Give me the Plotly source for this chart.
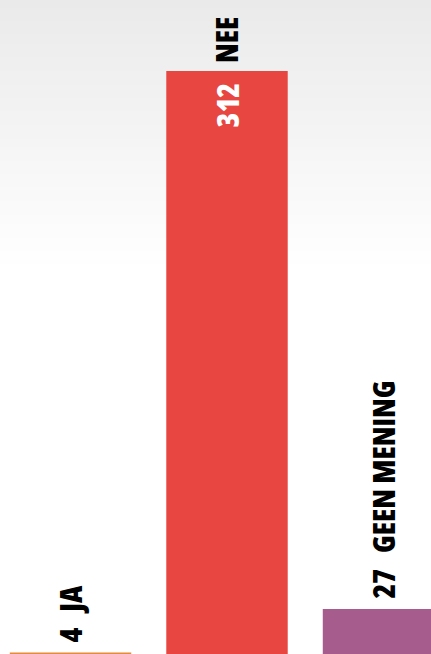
import plotly.graph_objects as go

categories = ["JA", "NEE", "GEEN MENING"]
values = [4, 312, 27]
colors = ["#e8893b", "#e84641", "#a65c8c"]
value_inside = [False, True, False]

W, H = 431, 654
FONT = "Open Sans"
GAP = "\u00a0\u00a0\u00a0"

fig = go.Figure()

# background gradient (light gray at top fading to white)
n_bands = 60
grad_end = 270 / H
for i in range(n_bands):
    t0 = i / n_bands
    t1 = (i + 1) / n_bands
    g = int(round(234 + (255 - 234) * t0))
    fig.add_shape(type="rect", xref="paper", yref="paper",
                  x0=0, x1=1, y0=1 - t1 * grad_end, y1=1 - t0 * grad_end + 0.002,
                  fillcolor=f"rgb({g},{g},{g})", line_width=0, layer="below")

xs = list(range(len(categories)))
fig.add_trace(go.Bar(x=xs, y=values, marker_color=colors, marker_line_width=0,
                     width=0.776, hoverinfo="skip"))

def fnt(color):
    return dict(family=FONT, size=30, color=color, weight=800)

for x, cat, v, inside in zip(xs, categories, values, value_inside):
    if inside:
        fig.add_annotation(x=x, y=v, text=cat, textangle=-90,
                           showarrow=False, xanchor="center", yanchor="bottom",
                           yshift=6, xshift=0, font=fnt("#000000"))
        fig.add_annotation(x=x, y=v, text=str(v), textangle=-90,
                           showarrow=False, xanchor="center", yanchor="top",
                           yshift=-10, xshift=0, font=fnt("#ffffff"))
    else:
        fig.add_annotation(x=x, y=v, text=f"{v}{GAP}{cat}", textangle=-90,
                           showarrow=False, xanchor="center", yanchor="bottom",
                           yshift=8, xshift=0, font=fnt("#000000"))

px_per_cat = 156.5
x0 = -70.5 / px_per_cat
x1 = x0 + W / px_per_cat
s = 1.888
base_px = 660
fig.update_layout(
    width=W, height=H,
    margin=dict(l=0, r=0, t=0, b=0),
    paper_bgcolor="#ffffff", plot_bgcolor="rgba(0,0,0,0)",
    showlegend=False,
    xaxis=dict(range=[x0, x1], visible=False, fixedrange=True),
    yaxis=dict(range=[(base_px - H) / s, base_px / s], visible=False, fixedrange=True),
)

# condensed width of the font, then redraw so text is measured in condensed form
post = (
    "document.body.style.margin='0';document.body.style.overflow='hidden';"
    "var st=document.createElement('style');"
    "st.textContent='text{font-stretch:75% !important;}';"
    "document.head.appendChild(st);"
    "var gd=document.getElementById('{plot_id}');"
    "(gd.layout.annotations||[]).forEach(function(a){a.font.family=a.font.family+', sans-serif';});"
    "Plotly.newPlot(gd, gd.data, gd.layout, {displayModeBar:false});"
)
fig.write_html("out.html", config={"displayModeBar": False}, post_script=post)
